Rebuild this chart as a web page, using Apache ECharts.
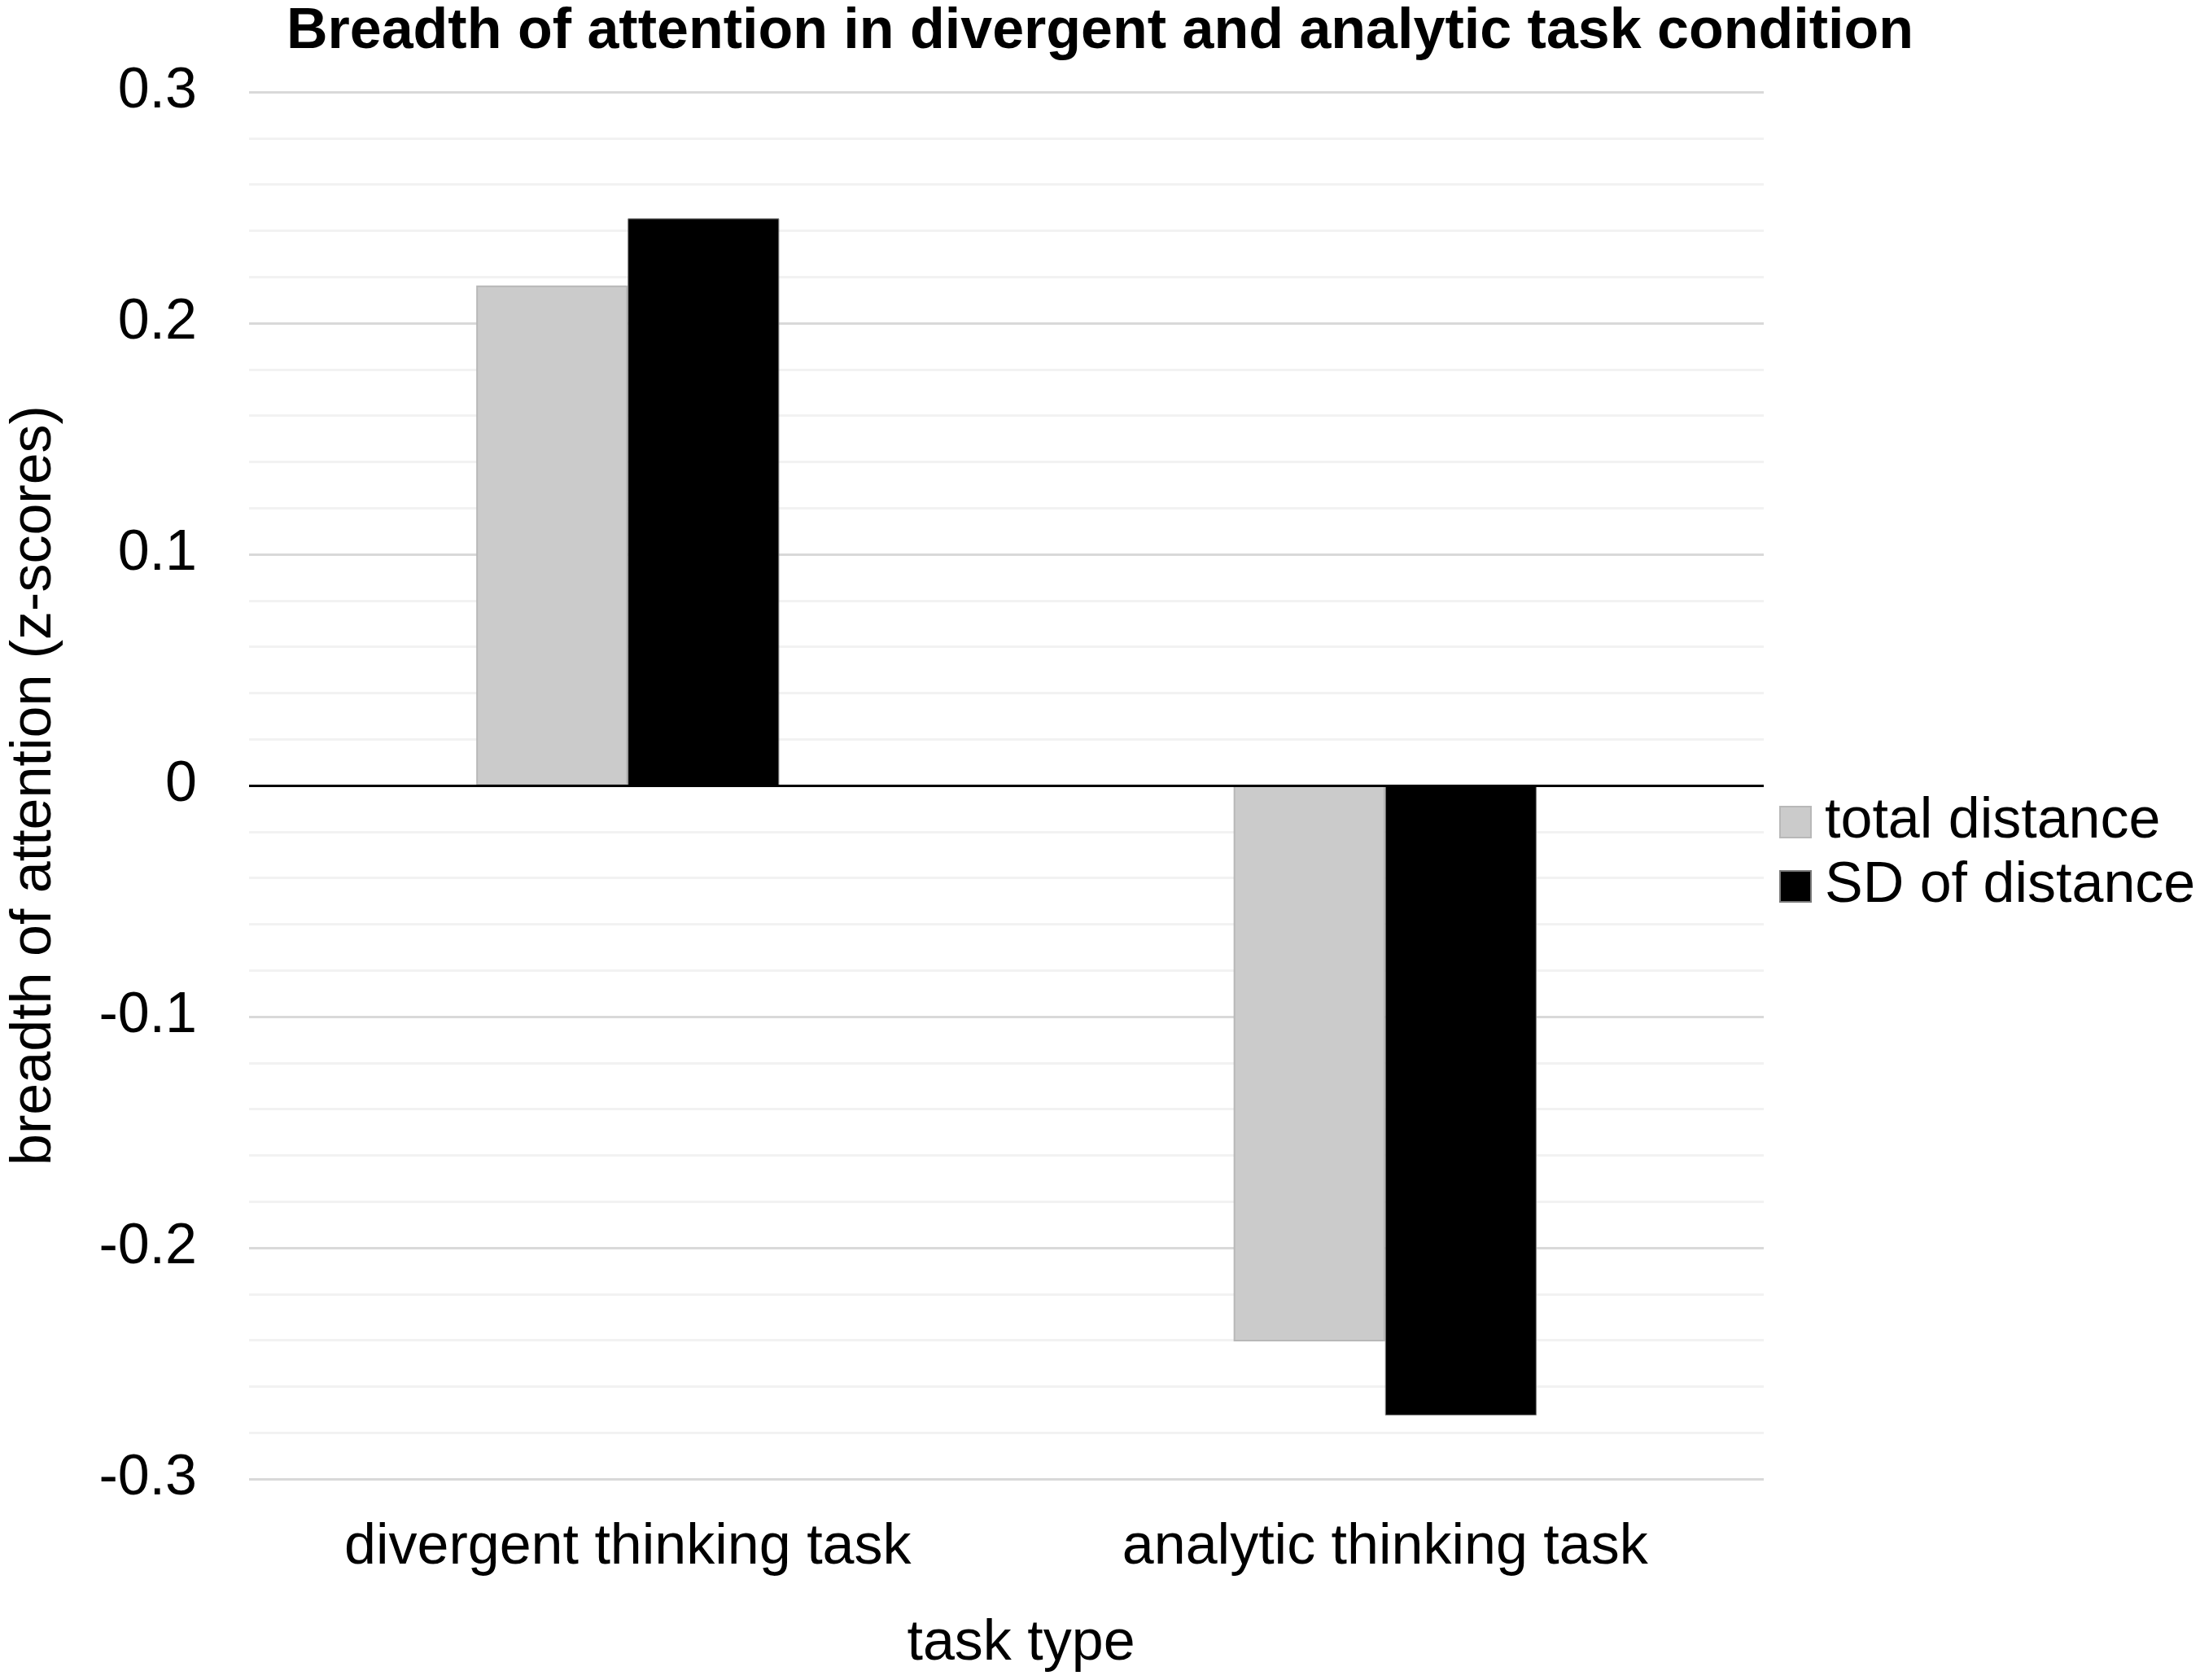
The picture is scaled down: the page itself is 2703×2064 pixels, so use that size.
<!DOCTYPE html>
<html>
<head>
<meta charset="utf-8">
<script src="https://cdn.jsdelivr.net/npm/echarts@6/dist/echarts.min.js"></script>
<style>
html,body{margin:0;padding:0;background:#fff;}
#chart{width:2703px;height:2064px;}
</style>
</head>
<body>
<div id="chart"></div>
<script>
const categories = ['divergent thinking task', 'analytic thinking task'];
const seriesNames = ['total distance', 'SD of distance'];
const totalDistance = [0.2163, -0.2405];
const sdDistance = [0.2453, -0.2725];
const yTicks = { min: -0.3, max: 0.3, interval: 0.1 };

const FONT = '"Liberation Sans", Arial, sans-serif';
const chart = echarts.init(document.getElementById('chart'));
chart.setOption({
  backgroundColor: '#ffffff',
  animation: false,
  title: {
    text: 'Breadth of attention in divergent and analytic task condition',
    left: 'center',
    top: 5,
    padding: [0, 0, 0, 60],
    textStyle: { fontFamily: FONT, fontWeight: 'bold', fontSize: 70, color: '#000' }
  },
  legend: {
    orient: 'vertical',
    left: 2186,
    top: 975,
    padding: 0,
    itemWidth: 38,
    itemHeight: 38,
    itemGap: 9,
    icon: 'rect',
    data: seriesNames,
    textStyle: { fontFamily: FONT, fontSize: 70, color: '#000', lineHeight: 70, padding: [0, 0, 0, 12] }
  },
  grid: { left: 298, right: 536, top: 113, bottom: 247, containLabel: false },
  xAxis: {
    type: 'category',
    data: categories,
    name: 'task type',
    nameLocation: 'middle',
    nameGap: 168,
    nameTextStyle: { fontFamily: FONT, fontSize: 70, color: '#000', padding: [0, 0, 0, 36] },
    axisLine: { show: false },
    axisTick: { show: false },
    axisLabel: { fontFamily: FONT, fontSize: 70, color: '#000', margin: 50 },
    splitLine: { show: false }
  },
  yAxis: {
    type: 'value',
    min: yTicks.min,
    max: yTicks.max,
    interval: yTicks.interval,
    name: 'breadth of attention (z-scores)',
    nameLocation: 'middle',
    nameGap: 228,
    nameTextStyle: { fontFamily: FONT, fontSize: 70, color: '#000' },
    axisLine: { show: false },
    axisTick: { show: false },
    axisLabel: { fontFamily: FONT, fontSize: 70, color: '#000', margin: 64 },
    splitLine: { show: true, lineStyle: { color: '#d9d9d9', width: 3 } },
    minorTick: { show: false, splitNumber: 5 },
    minorSplitLine: { show: true, lineStyle: { color: '#f2f2f2', width: 3 } }
  },
  series: [
    {
      name: seriesNames[0],
      type: 'bar',
      data: totalDistance,
      barWidth: '20%',
      barGap: '0%',
      itemStyle: { color: '#cbcbcb', borderColor: '#b8b8b8', borderWidth: 2 },
      markLine: {
        silent: true,
        symbol: 'none',
        label: { show: false },
        lineStyle: { color: '#000', width: 3, type: 'solid' },
        data: [{ yAxis: 0 }]
      }
    },
    {
      name: seriesNames[1],
      type: 'bar',
      data: sdDistance,
      barWidth: '20%',
      barGap: '0%',
      itemStyle: { color: '#000000', borderColor: '#7a7a7a', borderWidth: 1 }
    }
  ]
});
</script>
</body>
</html>
